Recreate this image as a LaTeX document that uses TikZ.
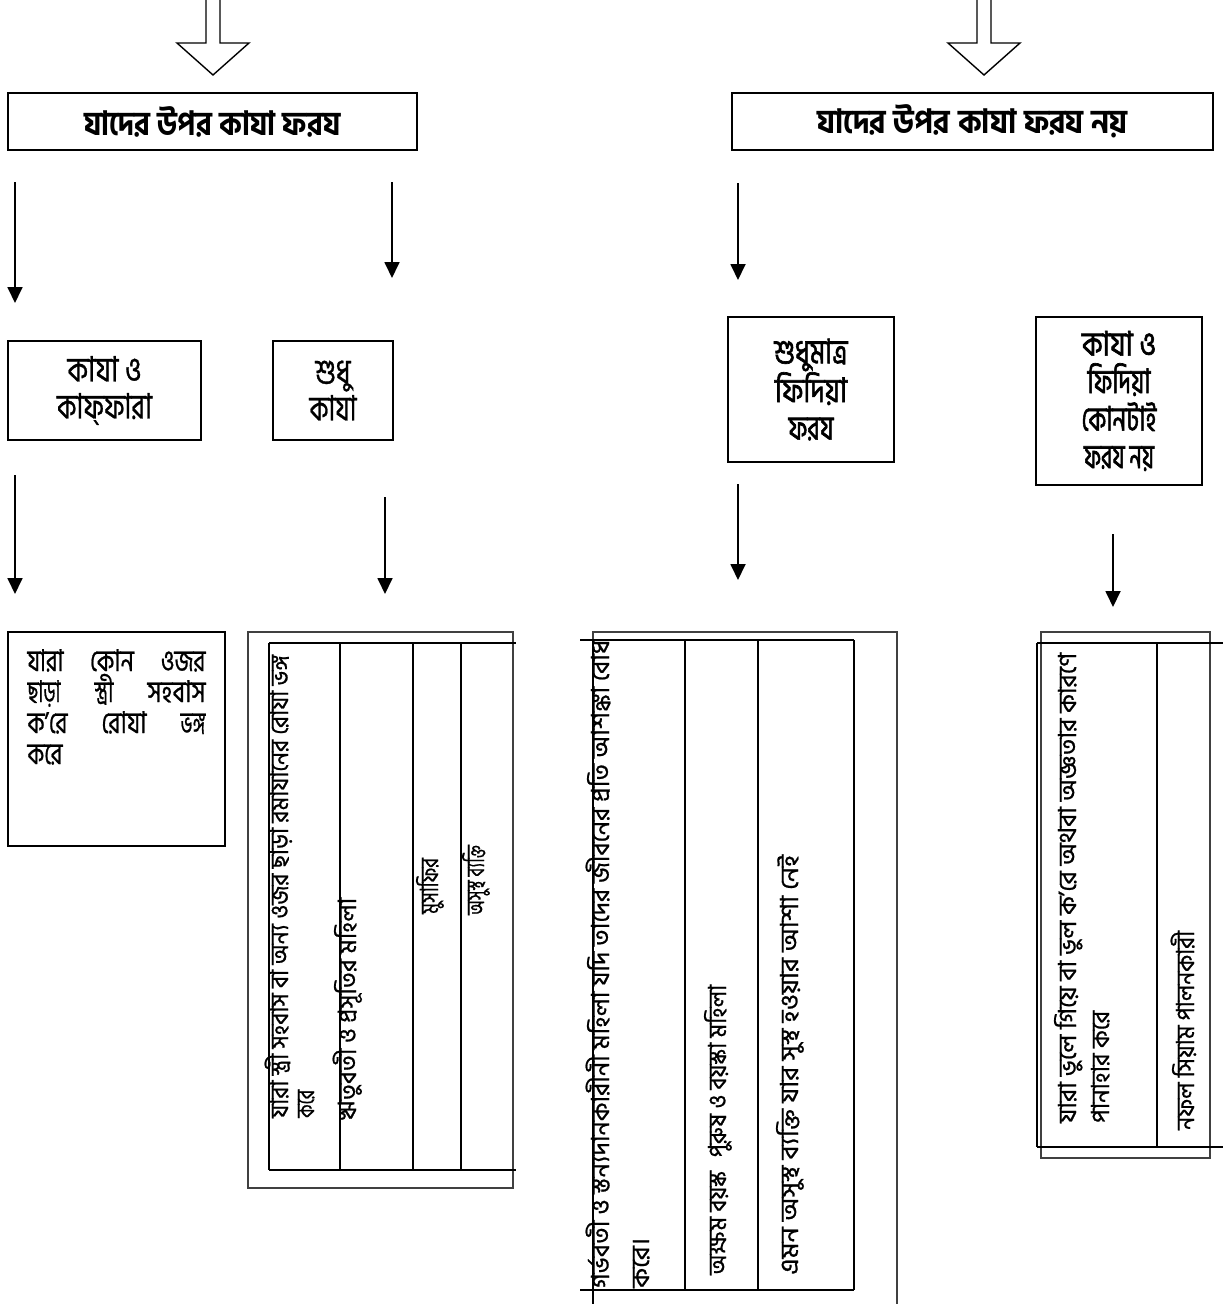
\documentclass[tikz,border=0pt]{standalone}
\usepackage{fontspec}
\usepackage{graphicx}
\usetikzlibrary{arrows.meta}
\newfontfamily\bn[Script=Bengali,FakeBold=0.9]{Hind Siliguri}
\newfontfamily\bnr[Script=Bengali,FakeBold=0.8]{Hind Siliguri}
\newfontfamily\bnm[Script=Bengali,FakeBold=2]{Hind Siliguri}
\newfontfamily\bnb[Script=Bengali]{Hind Siliguri Bold}
\newcommand\fitw[2]{\resizebox{#1}{\height}{#2}}
\newcommand\titlefont{\bnb\fontsize{33}{40}\selectfont}
\newcommand\boxfont{\bn\fontsize{35}{37}\selectfont}
\newcommand\boxbfont{\bnm\fontsize{34}{37.5}\selectfont}
\newcommand\parfont{\bn\fontsize{30}{31}\selectfont}
\newcommand\rotfont{\bnr\fontsize{25}{26}\selectfont}
\newcommand\jline[1]{\hbox to 178pt{#1}}
\tikzset{
  box/.style={draw, line width=1.6pt, inner sep=0pt, align=center},
  arr/.style={line width=1.8pt, -{Triangle[length=16pt,width=15pt]}},
  hollow/.style={line width=1.4pt, line join=miter},
  tbl/.style={line width=2pt},
  frame/.style={line width=1.1pt, draw=black!75},
  rot/.style={rotate=90, anchor=base west, inner sep=0pt, font=\rotfont},
  rotc/.style={rotate=90, anchor=base, inner sep=0pt, font=\rotfont}
}
\begin{document}
\begin{tikzpicture}[x=1pt,y=-1pt]
\useasboundingbox (0,0) rectangle (1230,1304);

% hollow arrows at the top
\draw[hollow] (206,0) -- (206,43) -- (177,43) -- (213,75) -- (249,43) -- (220,43) -- (220,0);
\draw[hollow] (977,0) -- (977,43) -- (948,43) -- (984,75) -- (1020,43) -- (991,43) -- (991,0);

% title boxes
\node[box, minimum width=409pt, minimum height=57pt, font=\titlefont] (tL) at (212.5,121.5) {\fitw{256pt}{যাদের উপর কাযা ফরয}};
\node[box, minimum width=481pt, minimum height=57pt, font=\titlefont] (tR) at (972.5,121.5) {\fitw{310pt}{যাদের উপর কাযা ফরয নয়}};

% second level boxes
\node[box, minimum width=193pt, minimum height=99pt, font=\boxfont] (kk) at (104.5,390.5) {\fitw{74pt}{কাযা ও}\\\fitw{95pt}{কাফ্ফারা}};
\node[box, minimum width=120pt, minimum height=99pt, font=\boxfont] (sk) at (333,390.5) {\fitw{35pt}{শুধু}\\\fitw{47pt}{কাযা}};
\node[box, minimum width=166pt, minimum height=145pt, font=\boxbfont] (sf) at (811,389.5) {\fitw{73pt}{শুধুমাত্র}\\\fitw{72pt}{ফিদিয়া}\\\fitw{45pt}{ফরয}};
\node[box, minimum width=166pt, minimum height=168pt, font=\boxbfont] (kf) at (1119,401) {\fitw{74pt}{কাযা ও}\\\fitw{63pt}{ফিদিয়া}\\\fitw{75pt}{কোনটাই}\\\fitw{70pt}{ফরয নয়}};

% arrow end points
\coordinate (a1s) at (15,182);   \coordinate (a1e) at (15,303);
\coordinate (a2s) at (392,182);  \coordinate (a2e) at (392,278);
\coordinate (a3s) at (738,183);  \coordinate (a3e) at (738,280);
\coordinate (a4s) at (15,475);   \coordinate (a4e) at (15,594);
\coordinate (a5s) at (385,497);  \coordinate (a5e) at (385,594);
\coordinate (a6s) at (738,484);  \coordinate (a6e) at (738,580);
\coordinate (a7s) at (1113,534); \coordinate (a7e) at (1113,607);
\draw[arr] (a1s) -- (a1e);
\draw[arr] (a2s) -- (a2e);
\draw[arr] (a3s) -- (a3e);
\draw[arr] (a4s) -- (a4e);
\draw[arr] (a5s) -- (a5e);
\draw[arr] (a6s) -- (a6e);
\draw[arr] (a7s) -- (a7e);

% left paragraph box
\node[box, minimum width=217pt, minimum height=214pt, font=\parfont] (lb) at (116.5,739)
  {\parbox[c][214pt][t]{178pt}{\baselineskip=31pt\lineskiplimit=-1000pt\lineskip=0pt
   \hbox{}\kern8pt
   \jline{\fitw{36pt}{যারা}\hfill\fitw{44pt}{কোন}\hfill\fitw{45pt}{ওজর}}
   \jline{\fitw{33pt}{ছাড়া}\hfill\fitw{19pt}{স্ত্রী}\hfill\fitw{58pt}{সহবাস}}
   \jline{\fitw{40pt}{ক’রে}\hfill\fitw{45pt}{রোযা}\hfill\fitw{25pt}{ভঙ্গ}}
   \jline{\fitw{35pt}{করে}\hfill}
   \vfill}};

% group 2 (rotated table)
\draw[frame] (248,632) rectangle (513,1188);
\draw[tbl] (269,643) -- (516,643);
\draw[tbl] (269,1170) -- (516,1170);
\foreach \xx in {269,340,413,461} \draw[tbl] (\xx,643) -- (\xx,1170);
\node[rot] (g2a) at (288,1118) {\fitw{463pt}{যারা স্ত্রী সহবাস বা অন্য ওজর ছাড়া রমাযানের রোযা ভঙ্গ}};
\node[rot] (g2b) at (314,1118) {\fitw{28pt}{করে}};
\node[rot] (g2c) at (356,1120) {\fitw{222pt}{ঋতুবতী ও প্রসূতির মহিলা}};
\node[rotc] (g2d) at (438,886) {\fitw{56pt}{মুসাফির}};
\node[rotc] (g2e) at (484,880) {\fitw{70pt}{অসুস্থ ব্যক্তি}};

% group 3 (rotated table)
\draw[frame] (593,1304) -- (593,632) -- (897,632) -- (897,1304);
\draw[tbl] (580,640) -- (854,640);
\draw[tbl] (580,1290) -- (854,1290);
\draw[tbl] (593,640) -- (593,1304);
\foreach \xx in {685,758,854} \draw[tbl] (\xx,640) -- (\xx,1290);
\node[rot] (g3a) at (609,1288) {\fitw{648pt}{গর্ভবতী ও স্তন্যদানকারীনী মহিলা যদি তাদের জীবনের প্রতি আশঙ্কা বোধ}};
\node[rot] (g3b) at (649,1288) {\fitw{50pt}{করে।}};
\node[rot] (g3c) at (726,1275) {\fitw{290pt}{অক্ষম বয়স্ক\hspace{0.6em}পুরুষ ও বয়স্কা মহিলা}};
\node[rot] (g3d) at (798,1275) {\fitw{420pt}{এমন অসুস্থ ব্যক্তি যার সুস্থ হওয়ার আশা নেই}};

% group 4 (rotated table)
\draw[frame] (1041,632) rectangle (1210,1158);
\draw[tbl] (1037,643) -- (1223,643);
\draw[tbl] (1037,1147) -- (1223,1147);
\foreach \xx in {1037,1157} \draw[tbl] (\xx,643) -- (\xx,1147);
\node[rot] (g4a) at (1076,1123) {\fitw{470pt}{যারা ভুলে গিয়ে বা ভুল ক’রে অথবা অজ্ঞতার কারণে}};
\node[rot] (g4b) at (1109,1123) {\fitw{112pt}{পানাহার করে}};
\node[rot] (g4c) at (1194,1130) {\fitw{199pt}{নফল সিয়াম পালনকারী}};
\end{tikzpicture}
\end{document}
